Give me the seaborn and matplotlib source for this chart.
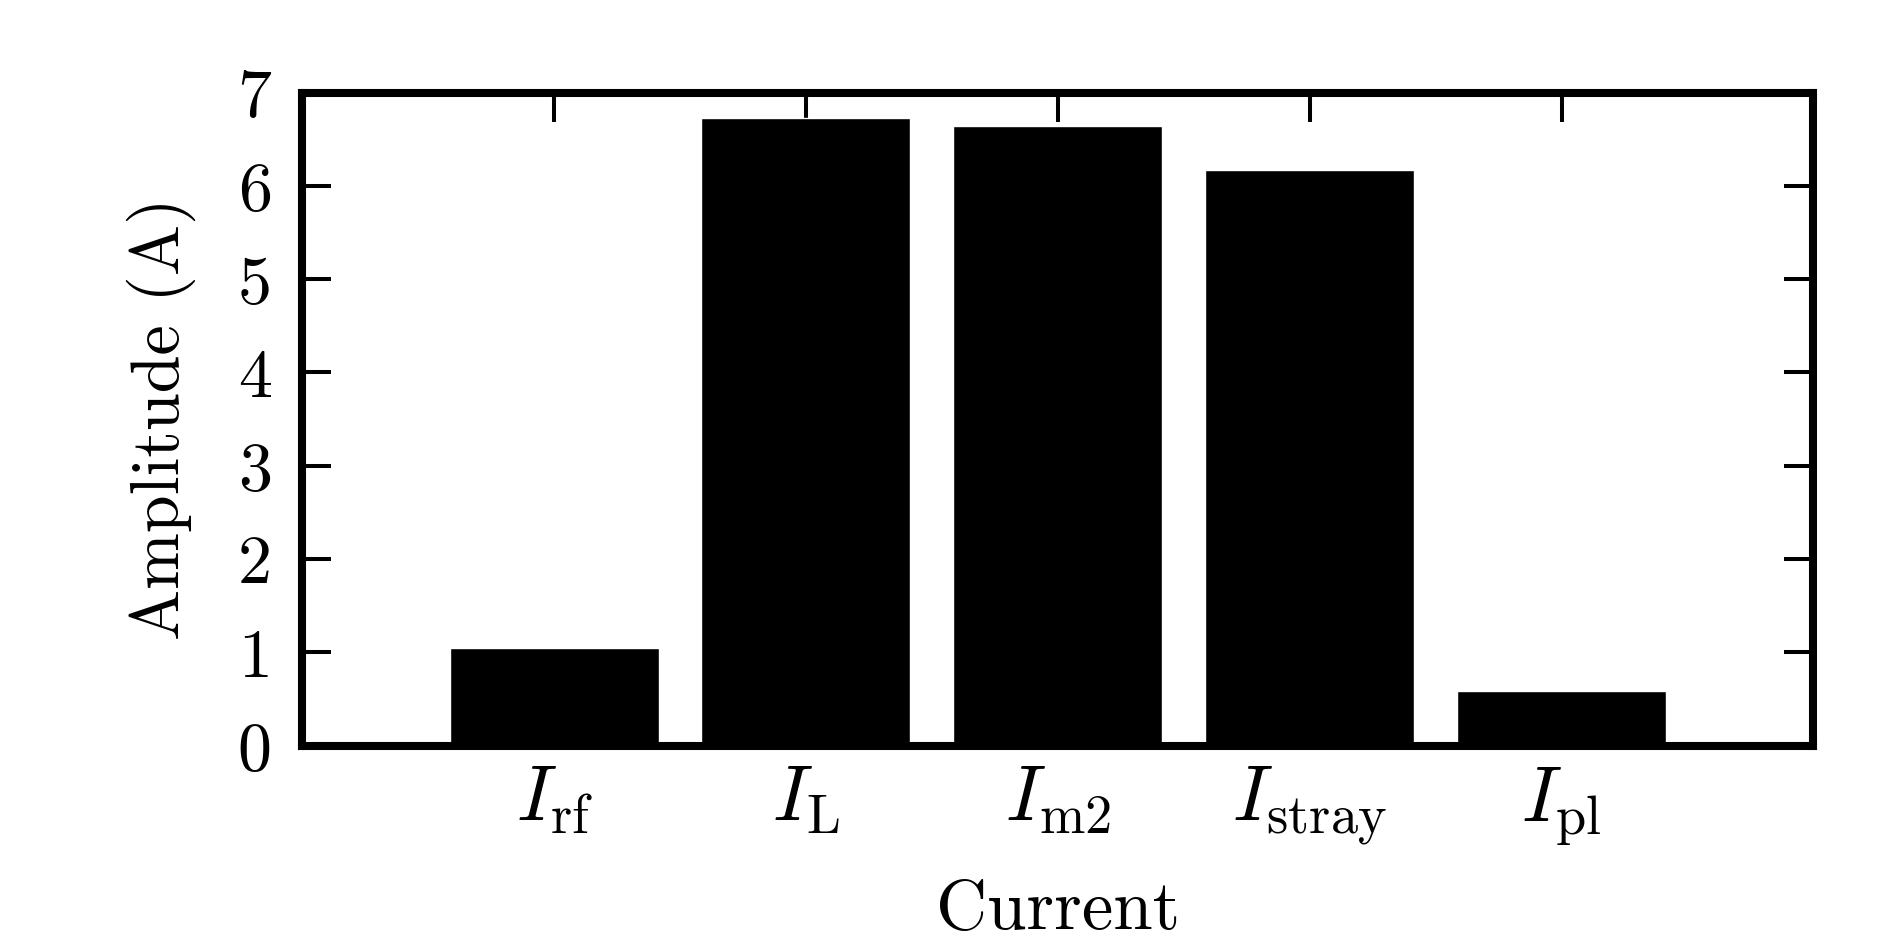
import matplotlib
matplotlib.use("Agg")
import matplotlib.pyplot as plt
import seaborn as sns
import pandas as pd

categories = [r"$I_{\mathrm{rf}}$", r"$I_{\mathrm{L}}$", r"$I_{\mathrm{m2}}$",
              r"$I_{\mathrm{stray}}$", r"$I_{\mathrm{pl}}$"]
amplitudes = [1.05, 6.73, 6.64, 6.17, 0.59]
y_ticks = [0, 1, 2, 3, 4, 5, 6, 7]

sns.set_style("ticks")
plt.rcParams["font.family"] = "serif"
plt.rcParams["font.serif"] = ["cmr10", "DejaVu Serif"]
plt.rcParams["mathtext.fontset"] = "cm"
plt.rcParams["axes.formatter.use_mathtext"] = True
for k in ["text.color", "axes.labelcolor", "axes.edgecolor", "xtick.color", "ytick.color"]:
    plt.rcParams[k] = "black"

df = pd.DataFrame({"Current": categories, "Amplitude": amplitudes})

fig = plt.figure(figsize=(18.89, 9.44), dpi=100)
ax = fig.add_axes([0.160, 0.210, 0.800, 0.692])

sns.barplot(data=df, x="Current", y="Amplitude", color="black", saturation=1,
            width=0.83, ax=ax, zorder=1)

ax.set_xlim(-1, 5)
ax.set_ylim(0, 7)
ax.set_yticks(y_ticks)
ax.set_yticklabels([str(t) for t in y_ticks])

for s in ax.spines.values():
    s.set_linewidth(5.8)
    s.set_visible(True)
    s.set_color("black")
    s.set_zorder(3)

ax.tick_params(axis="both", which="major", direction="in", length=21, width=2.9,
               top=True, right=True, color="black", labelcolor="black")
ax.tick_params(axis="y", pad=22, labelsize=49)
ax.tick_params(axis="x", pad=14, labelsize=56)

ax.set_xlabel("Current", fontsize=51, labelpad=22)
ax.set_ylabel("Amplitude (A)", fontsize=49, labelpad=30)

fig.savefig("out.png", dpi=100)
